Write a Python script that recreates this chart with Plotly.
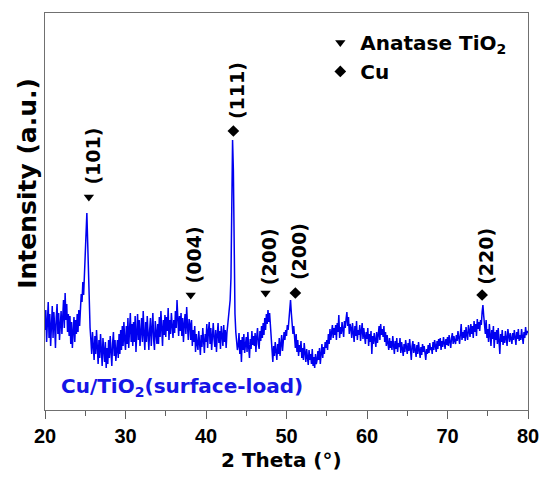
import plotly.graph_objects as go

# ---- data (y in arbitrary units) ----
start_2theta = 20.0
step_2theta = 0.1
intensity_rows = [
    [80, 100, 68, 92, 108, 72, 96, 64, 88, 104],      # 20.x
    [72, 98, 84, 62, 93, 106, 76, 97, 70, 90],        # 21.x
    [99, 76, 94, 110, 82, 117, 90, 106, 78, 96],      # 22.x
    [74, 94, 66, 88, 62, 85, 93, 68, 90, 76],         # 23.x
    [96, 78, 100, 84, 106, 116, 108, 128, 115, 140],  # 24.x
    [155, 172, 197, 168, 128, 98, 82, 70, 56, 78],    # 25.x
    [62, 50, 74, 56, 80, 60, 46, 70, 52, 76],         # 26.x
    [58, 44, 72, 54, 48, 68, 42, 62, 46, 70],         # 27.x
    [52, 74, 57, 44, 67, 78, 54, 70, 49, 66],         # 28.x
    [70, 52, 76, 56, 80, 60, 84, 64, 88, 70],         # 29.x
    [60, 84, 66, 92, 62, 80, 97, 68, 86, 64],         # 30.x
    [88, 68, 94, 58, 82, 96, 70, 90, 64, 84],         # 31.x
    [92, 68, 99, 76, 60, 88, 68, 94, 72, 60],         # 32.x
    [80, 92, 64, 84, 97, 70, 60, 89, 74, 66],         # 33.x
    [86, 66, 93, 73, 99, 78, 64, 90, 75, 95],         # 34.x
    [73, 93, 79, 102, 70, 90, 76, 97, 80, 72],        # 35.x
    [90, 77, 99, 82, 110, 88, 74, 94, 79, 97],        # 36.x
    [74, 92, 68, 86, 96, 76, 103, 84, 70, 91],        # 37.x
    [86, 70, 90, 64, 80, 68, 84, 58, 76, 66],         # 38.x
    [60, 79, 68, 55, 75, 63, 82, 66, 57, 76],         # 39.x
    [68, 86, 62, 79, 88, 66, 82, 60, 77, 87],         # 40.x
    [71, 63, 80, 58, 75, 87, 67, 79, 61, 84],         # 41.x
    [74, 64, 85, 68, 80, 62, 77, 86, 90, 96],         # 42.x
    [110, 132, 242, 270, 240, 132, 96, 78, 66, 60],   # 43.x
    [64, 77, 56, 70, 48, 73, 60, 76, 57, 68],         # 44.x
    [73, 58, 78, 63, 52, 71, 61, 79, 65, 74],         # 45.x
    [64, 77, 58, 73, 82, 66, 61, 79, 69, 84],         # 46.x
    [72, 87, 75, 92, 80, 96, 86, 100, 88, 97],        # 47.x
    [83, 68, 56, 48, 64, 54, 68, 58, 50, 66],         # 48.x
    [56, 72, 54, 66, 75, 59, 69, 78, 70, 80],         # 49.x
    [74, 85, 80, 93, 100, 110, 97, 88, 76, 84],       # 50.x
    [70, 62, 76, 58, 70, 54, 65, 58, 69, 52],         # 51.x
    [62, 50, 67, 56, 48, 61, 53, 45, 60, 50],         # 52.x
    [56, 46, 61, 44, 53, 42, 56, 46, 50, 59],         # 53.x
    [50, 62, 46, 57, 66, 52, 63, 56, 68, 62],         # 54.x
    [70, 60, 76, 66, 81, 70, 78, 85, 72, 82],         # 55.x
    [75, 85, 70, 87, 78, 95, 72, 83, 76, 88],         # 56.x
    [80, 73, 89, 82, 91, 98, 84, 93, 76, 86],         # 57.x
    [82, 72, 87, 78, 68, 84, 74, 89, 70, 80],         # 58.x
    [75, 85, 69, 79, 87, 71, 82, 74, 66, 78],         # 59.x
    [71, 82, 64, 76, 68, 79, 56, 74, 66, 77],         # 60.x
    [70, 63, 78, 67, 75, 84, 70, 86, 75, 81],         # 61.x
    [73, 84, 68, 78, 64, 75, 67, 60, 72, 62],         # 62.x
    [69, 60, 74, 64, 56, 69, 61, 72, 58, 67],         # 63.x
    [63, 72, 57, 68, 60, 54, 66, 58, 70, 61],         # 64.x
    [56, 67, 59, 71, 63, 50, 64, 69, 57, 66],         # 65.x
    [60, 53, 65, 56, 68, 59, 52, 63, 55, 66],         # 66.x
    [58, 64, 54, 50, 61, 56, 65, 57, 67, 60],         # 67.x
    [63, 56, 68, 60, 70, 63, 58, 69, 61, 71],         # 68.x
    [64, 72, 60, 69, 63, 73, 66, 61, 71, 65],         # 69.x
    [73, 64, 75, 68, 62, 72, 77, 66, 74, 69],         # 70.x
    [66, 75, 69, 79, 71, 66, 76, 86, 70, 78],         # 71.x
    [72, 80, 69, 83, 75, 70, 85, 77, 73, 86],         # 72.x
    [76, 84, 72, 89, 78, 86, 74, 91, 81, 88],         # 73.x
    [79, 90, 85, 98, 105, 94, 83, 76, 90, 72],        # 74.x
    [81, 68, 86, 74, 64, 80, 71, 84, 62, 78],         # 75.x
    [70, 80, 66, 82, 73, 56, 76, 68, 80, 65],         # 76.x
    [74, 67, 79, 71, 64, 81, 74, 68, 77, 72],         # 77.x
    [66, 77, 70, 80, 72, 65, 78, 71, 81, 69],         # 78.x
    [75, 70, 81, 73, 66, 78, 72, 83, 75, 79],         # 79.x
    [77],                                             # 80.0
]
intensity = [v for row in intensity_rows for v in row]
two_theta = [round(start_2theta + step_2theta * i, 1) for i in range(len(intensity))]

# peak markers
anatase_pos = [25.45, 38.1, 47.4]
anatase_mark_y = [213, 115, 117]
anatase_labels = ["(101)", "(004)", "(200)"]
anatase_label_y = [223, 125, 123]

cu_pos = [43.4, 51.1, 74.3]
cu_mark_y = [279, 117, 115]
cu_labels = ["(111)", "(200)", "(220)"]
cu_label_y = [289, 128, 123]

sample_label = "Cu/TiO<sub>2</sub>(surface-load)"
x_ticks = [20, 30, 40, 50, 60, 70, 80]
x_title = "2 Theta (°)"
y_title = "Intensity (a.u.)"

FONT = "DejaVu Sans, sans-serif"
TICK_FONT = "Liberation Sans, Arial, sans-serif"

fig = go.Figure()
fig.add_trace(go.Scatter(
    x=two_theta, y=intensity, mode="lines",
    line=dict(color="#0000F0", width=1.5), showlegend=False, hoverinfo="skip"))
fig.add_trace(go.Scatter(
    x=anatase_pos, y=anatase_mark_y, mode="markers",
    marker=dict(symbol="triangle-down", size=9, color="black"),
    name="Anatase TiO<sub>2</sub>"))
fig.add_trace(go.Scatter(
    x=cu_pos, y=cu_mark_y, mode="markers",
    marker=dict(symbol="diamond", size=9, color="black"),
    name="Cu"))

annotations = []
for xp, yl, txt in list(zip(anatase_pos, anatase_label_y, anatase_labels)) + \
        list(zip(cu_pos, cu_label_y, cu_labels)):
    annotations.append(dict(
        x=xp + 0.4, y=yl, xref="x", yref="y", text=txt, showarrow=False,
        textangle=-90, xanchor="center", yanchor="bottom",
        font=dict(family=FONT, size=19, color="black", weight="bold")))

annotations.append(dict(
    x=21.8, y=23, xref="x", yref="y", text=sample_label, showarrow=False,
    xanchor="left", yanchor="middle",
    font=dict(family=FONT, size=20, color="#1515E6", weight="bold")))

annotations.append(dict(
    x=-0.035, y=0.570, xref="paper", yref="paper", text=y_title,
    showarrow=False, textangle=-90, xanchor="center", yanchor="middle",
    font=dict(family=FONT, size=25, color="black", weight="bold")))

annotations.append(dict(
    x=0.49, y=-0.126, xref="paper", yref="paper", text=x_title,
    showarrow=False, xanchor="center", yanchor="middle",
    font=dict(family=FONT, size=20, color="black", weight="bold")))

fig.update_layout(
    width=544, height=478,
    margin=dict(l=45, r=16, t=13, b=68, autoexpand=False),
    paper_bgcolor="white", plot_bgcolor="white",
    font=dict(family=FONT, color="black"),
    annotations=annotations,
    legend=dict(x=0.570, y=0.975, xanchor="left", yanchor="top",
                bgcolor="rgba(0,0,0,0)", tracegroupgap=0,
                font=dict(family=FONT, size=20, color="black", weight="bold")),
    xaxis=dict(
        range=[20, 80], tickvals=x_ticks, ticks="outside", ticklen=8,
        tickcolor="#606060", tickwidth=1, automargin=False,
        minor=dict(dtick=5, ticks="outside", ticklen=5, tickcolor="#606060"),
        showline=True, linecolor="#707070", linewidth=1, mirror=True,
        showgrid=False, zeroline=False,
        tickfont=dict(family=TICK_FONT, size=20, color="black", weight="bold"),
    ),
    yaxis=dict(
        range=[0, 397], showticklabels=False, ticks="", automargin=False,
        showline=True, linecolor="#707070", linewidth=1, mirror=True,
        showgrid=False, zeroline=False,
    ),
)

fig.write_html("out.html")
